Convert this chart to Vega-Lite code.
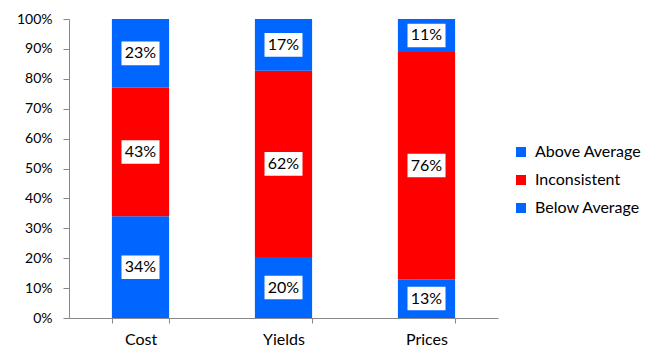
{
  "$schema": "https://vega.github.io/schema/vega-lite/v6.json",
  "width": 429,
  "height": 299,
  "autosize": "none",
  "padding": {"left": 69, "top": 19, "right": 161, "bottom": 31},
  "background": "white",
  "config": {"view": {"stroke": null}, "font": "Lato",
    "axisY": {"title": null, "format": "%", "values": [0,0.1,0.2,0.3,0.4,0.5,0.6,0.7,0.8,0.9,1], "labelOverlap": false, "grid": false, "labelFontSize": 14, "labelColor": "black", "labelPadding": 11, "tickSize": 6, "domainColor": "#888", "tickColor": "#888"}},
  "data": {"values": [
    {"cat": "Cost", "series": "Below Average", "ord": 1, "value": 34},
    {"cat": "Cost", "series": "Inconsistent", "ord": 2, "value": 43},
    {"cat": "Cost", "series": "Above Average", "ord": 3, "value": 23},
    {"cat": "Yields", "series": "Below Average", "ord": 1, "value": 20.4},
    {"cat": "Yields", "series": "Inconsistent", "ord": 2, "value": 62.3},
    {"cat": "Yields", "series": "Above Average", "ord": 3, "value": 17.3},
    {"cat": "Prices", "series": "Below Average", "ord": 1, "value": 13},
    {"cat": "Prices", "series": "Inconsistent", "ord": 2, "value": 76},
    {"cat": "Prices", "series": "Above Average", "ord": 3, "value": 11}
  ]},
  "transform": [
    {"stack": "value", "groupby": ["cat"], "sort": [{"field": "ord", "order": "ascending"}], "offset": "normalize", "as": ["y0", "y1"]},
    {"calculate": "(datum.y0 + datum.y1) / 2", "as": "ymid"},
    {"calculate": "format(round(datum.value), 'd') + '%'", "as": "lbl"}
  ],
  "encoding": {
    "x": {
      "field": "cat", "type": "nominal", "sort": ["Cost", "Yields", "Prices"],
      "scale": {"paddingInner": 0.6, "paddingOuter": 0.3},
      "axis": {"title": null, "labelAngle": 0, "labelFontSize": 16, "labelColor": "black", "labelPadding": 8, "domainColor": "#888", "tickColor": "#888", "tickBand": "extent", "tickSize": 5}
    }
  },
  "layer": [
    {
      "mark": {"type": "bar"},
      "encoding": {
        "y": {"field": "y0", "type": "quantitative", "scale": {"domain": [0, 1]}, "title": null},
        "y2": {"field": "y1"},
        "color": {"field": "series", "type": "nominal",
          "scale": {"domain": ["Above Average", "Inconsistent", "Below Average"], "range": ["#0066FF", "#FF0000", "#0066FF"]},
          "legend": {"title": null, "orient": "none", "legendX": 444, "legendY": 125, "symbolType": "square", "symbolSize": 100, "symbolStrokeWidth": 0, "labelFontSize": 16, "labelColor": "black", "rowPadding": 12, "labelOffset": 6}
        }
      }
    },
    {
      "mark": {"type": "point", "shape": "M-1,-0.62L1,-0.62L1,0.62L-1,0.62Z", "filled": true, "color": "white", "opacity": 1, "size": 1444},
      "encoding": {"y": {"field": "ymid", "type": "quantitative", "title": null}}
    },
    {
      "mark": {"type": "text", "fontSize": 16, "color": "black", "baseline": "middle"},
      "encoding": {"y": {"field": "ymid", "type": "quantitative", "title": null}, "text": {"field": "lbl"}}
    }
  ]
}
